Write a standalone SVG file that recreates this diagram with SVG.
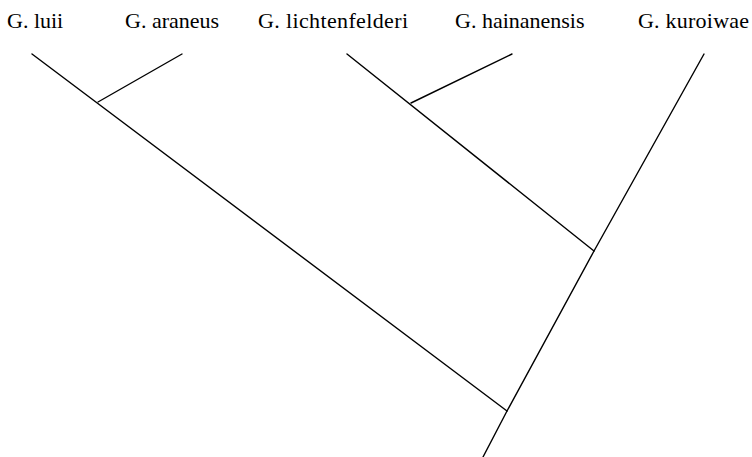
<svg xmlns="http://www.w3.org/2000/svg" width="752" height="457" viewBox="0 0 752 457">
<style>
.lbl{font-family:"Liberation Serif","Times New Roman",serif;font-size:22px;fill:#000}
.br{stroke:#000;stroke-width:1.4;fill:none;stroke-linecap:round}
</style>
<rect width="752" height="457" fill="#fff"/>
<g id="leaf-luii"><text class="lbl" x="7" y="28">G. luii</text></g>
<g id="leaf-araneus"><text class="lbl" x="125" y="28">G. araneus</text></g>
<g id="leaf-lichtenfelderi"><text class="lbl" x="258" y="28" textLength="150" lengthAdjust="spacing">G. lichtenfelderi</text></g>
<g id="leaf-hainanensis"><text class="lbl" x="455" y="28">G. hainanensis</text></g>
<g id="leaf-kuroiwae"><text class="lbl" x="638" y="28" textLength="111" lengthAdjust="spacing">G. kuroiwae</text></g>
<g id="connectors">
<path class="br" d="M32,54 L507,411"/>
<path class="br" d="M182,54 L98,102"/>
<path class="br" d="M347,54 L594,251"/>
<path class="br" d="M512,54 L411,103"/>
<path class="br" d="M704,54 L594,251 L507,411 L483,457"/>
</g>
</svg>
